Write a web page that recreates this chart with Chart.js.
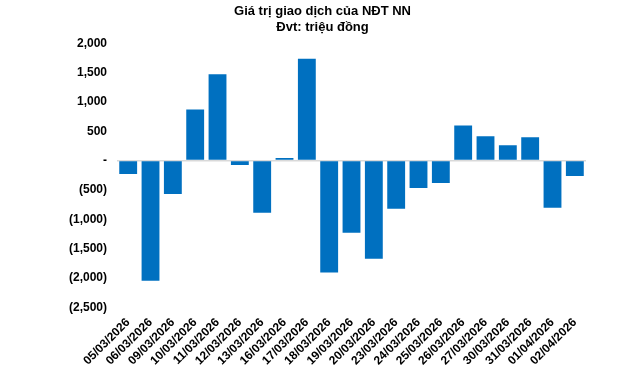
<!DOCTYPE html>
<html>
<head>
<meta charset="utf-8">
<script src="https://cdn.jsdelivr.net/npm/chart.js@4"></script>
<style>
  html, body { margin: 0; padding: 0; background: #fff; }
  #wrap { width: 640px; height: 368px; position: relative; }
</style>
</head>
<body>
<div id="wrap"><canvas id="myBarChart"></canvas></div>
<script>
const dates = ['05/03/2026', '06/03/2026', '09/03/2026', '10/03/2026', '11/03/2026', '12/03/2026', '13/03/2026',
    '16/03/2026', '17/03/2026', '18/03/2026', '19/03/2026', '20/03/2026', '23/03/2026', '24/03/2026',
    '25/03/2026', '26/03/2026', '27/03/2026', '30/03/2026', '31/03/2026', '01/04/2026', '02/04/2026'];
const netValues = [-230, -2045, -567, 871, 1470, -75, -890, 44, 1737, -1908, -1229, -1670, -822, -465,
    -380, 600, 413, 260, 396, -805, -262];
const titleLines = ['Giá trị giao dịch của NĐT NN', 'Đvt: triệu đồng'];

Chart.defaults.font.family = "'Liberation Sans', Arial, sans-serif";
Chart.defaults.color = '#000';

function fmt(v){
    if(v === 0) return '-';
    const s = Math.abs(v).toLocaleString('en-US');
    return v < 0 ? '(' + s + ')' : s;
}

const ctx = document.getElementById('myBarChart');
new Chart(ctx, {
    type: 'bar',
    data: {
        labels: dates,
        datasets: [{
            data: netValues,
            backgroundColor: '#0070C0',
            barPercentage: 0.8,
            categoryPercentage: 1
        }]
    },
    options: {
        responsive: true,
        maintainAspectRatio: false,
        animation: false,
        layout: { padding: { left: 59, right: 54, top: 4, bottom: 0 } },
        plugins: {
            legend: { display: false },
            tooltip: { enabled: false },
            title: {
                display: true,
                text: titleLines,
                color: '#000',
                font: { size: 13, weight: 'bold' },
                lineHeight: 1.1,
                padding: { top: 0, bottom: 8 }
            }
        },
        scales: {
            x: {
                grid: { display: false },
                border: { display: false },
                ticks: {
                    autoSkip: false,
                    maxRotation: 45,
                    minRotation: 45,
                    padding: 0,
                    font: { size: 12, weight: 'bold' }
                }
            },
            y: {
                min: -2500,
                max: 2000,
                border: { display: false },
                grid: {
                    drawTicks: false,
                    color: c => c.tick && c.tick.value === 0 ? '#d9d9d9' : 'rgba(0,0,0,0)',
                    lineWidth: 1.5
                },
                ticks: {
                    stepSize: 500,
                    padding: 10,
                    font: { size: 12, weight: 'bold' },
                    callback: v => fmt(v)
                }
            }
        }
    }
});
</script>
</body>
</html>
